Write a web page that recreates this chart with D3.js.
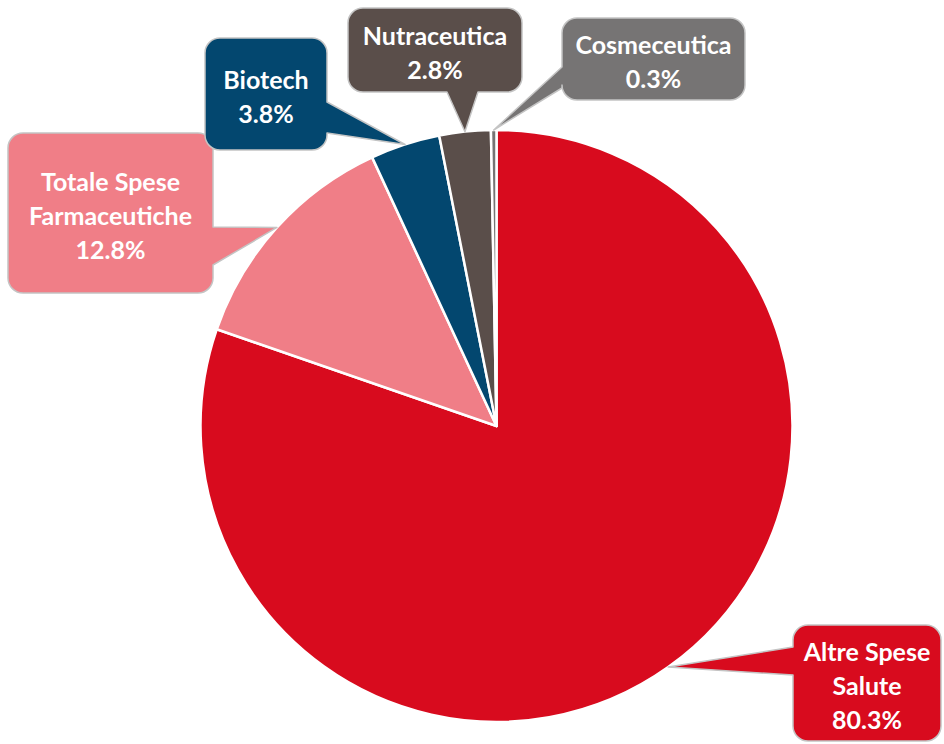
<!DOCTYPE html>
<html>
<head>
<meta charset="utf-8">
<script src="https://cdn.jsdelivr.net/npm/d3@7/dist/d3.min.js"></script>
<style>
  html, body { margin: 0; padding: 0; background: #ffffff; }
  svg { display: block; }
  text { font-family: Lato, "Open Sans", sans-serif; font-weight: 700; }
</style>
</head>
<body>
<svg id="chart" width="944" height="744"></svg>
<script>
// Spending breakdown (%)
const categories = ["Altre Spese Salute", "Totale Spese Farmaceutiche", "Biotech", "Nutraceutica", "Cosmeceutica"];
const values = [80.3, 12.8, 3.8, 2.8, 0.3];
const colors = ["#D80B1E", "#F07E87", "#03476F", "#5A4E4A", "#767474"];

// Callout boxes: position, size, side of the pointer and its base span along that side
const callouts = [
  { x: 793, y: 625, w: 148, h: 116, side: "left",   b0: 22, b1: 50, words: 2 },
  { x: 8,   y: 133, w: 205, h: 160, side: "right",  b0: 94, b1: 132, words: 2 },
  { x: 205, y: 38,  w: 122, h: 112, side: "right",  b0: 64, b1: 95, words: 1 },
  { x: 348, y: 8,   w: 174, h: 84,  side: "bottom", b0: 99, b1: 130, words: 1 },
  { x: 562, y: 18,  w: 183, h: 82,  side: "left",   b0: 49, b1: 70, words: 1 }
];

const svg = d3.select("#chart");
const cx = 496.5, cy = 426, radius = 296;

const pie = d3.pie().sort(null).value(d => d.value).startAngle(0).endAngle(2 * Math.PI);
const data = categories.map((c, i) => ({ name: c, value: values[i], color: colors[i], box: callouts[i] }));
const arcs = pie(data);

const arc = d3.arc().innerRadius(0).outerRadius(radius);
const g = svg.append("g").attr("transform", `translate(${cx},${cy})`);

g.selectAll("path.slice")
  .data(arcs)
  .join("path")
  .attr("class", "slice")
  .attr("d", arc)
  .attr("fill", d => d.data.color)
  .attr("stroke", "#ffffff")
  .attr("stroke-width", 2.5)
  .attr("stroke-linejoin", "round");

// Rounded box with a triangular pointer ending at (tx, ty)
function calloutPath(b, tx, ty) {
  const r = 15;
  const { x, y, w, h } = b;
  const x1 = x + w, y1 = y + h;
  const p = d3.path();
  p.moveTo(x + r, y);
  p.lineTo(x1 - r, y);
  p.arcTo(x1, y, x1, y + r, r);
  if (b.side === "right") {
    p.lineTo(x1, y + b.b0);
    p.lineTo(tx, ty);
    p.lineTo(x1, y + b.b1);
  }
  p.lineTo(x1, y1 - r);
  p.arcTo(x1, y1, x1 - r, y1, r);
  if (b.side === "bottom") {
    p.lineTo(x + b.b1, y1);
    p.lineTo(tx, ty);
    p.lineTo(x + b.b0, y1);
  }
  p.lineTo(x + r, y1);
  p.arcTo(x, y1, x, y1 - r, r);
  if (b.side === "left") {
    p.lineTo(x, y + b.b1);
    p.lineTo(tx, ty);
    p.lineTo(x, y + b.b0);
  }
  p.lineTo(x, y + r);
  p.arcTo(x, y, x + r, y, r);
  p.closePath();
  return p.toString();
}

const fmt = d3.format(".1f");
const labels = svg.append("g");

arcs.forEach(a => {
  const mid = (a.startAngle + a.endAngle) / 2;
  const tx = cx + radius * Math.sin(mid);
  const ty = cy - radius * Math.cos(mid);
  const b = a.data.box;

  labels.append("path")
    .attr("d", calloutPath(b, tx, ty))
    .attr("fill", a.data.color)
    .attr("stroke", "#c4c4c4")
    .attr("stroke-width", 1.5)
    .attr("stroke-linejoin", "round");

  const words = a.data.name.split(" ");
  const lines = [];
  lines.push(words.slice(0, b.words).join(" "));
  if (words.length > b.words) lines.push(words.slice(b.words).join(" "));
  lines.push(fmt(a.data.value) + "%");

  const lh = 34;
  const centerY = b.y + b.h / 2 + 3;
  const startY = centerY - (lines.length - 1) * lh / 2;
  const t = labels.append("text")
    .attr("text-anchor", "middle")
    .attr("fill", "#ffffff")
    .attr("font-size", 25);
  lines.forEach((ln, i) => {
    t.append("tspan")
      .attr("x", b.x + b.w / 2)
      .attr("y", startY + i * lh)
      .attr("dy", "0.35em")
      .text(ln);
  });
});
</script>
</body>
</html>
